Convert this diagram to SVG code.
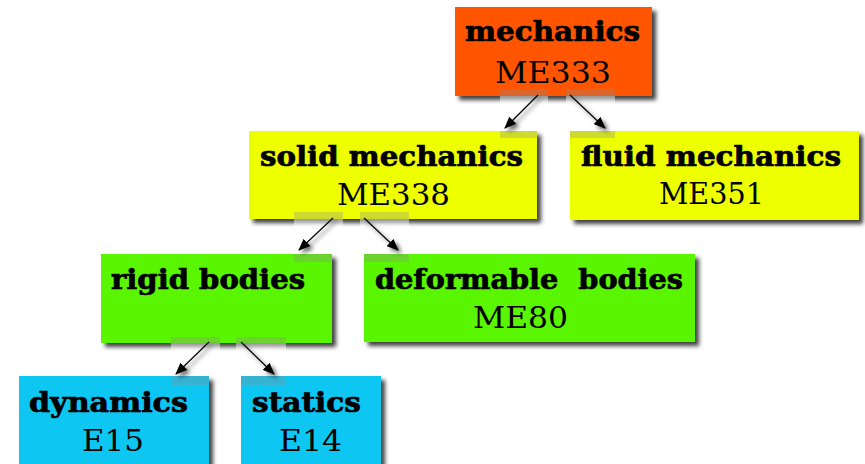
<svg xmlns="http://www.w3.org/2000/svg" width="865" height="464" viewBox="0 0 865 464">
  <style>
    .title { font-family: "DejaVu Serif", "Liberation Serif", serif; font-weight: bold; font-size: 27px; fill: #000; stroke: #000; stroke-width: 0.7; text-anchor: middle; }
    .code { font-family: "DejaVu Serif", "Liberation Serif", serif; font-size: 30px; fill: #000; text-anchor: middle; }
    .box { filter: url(#shadow); }
    .orange { fill: #ff5500; }
    .yellow { fill: #eeff00; }
    .green { fill: #5af500; }
    .blue { fill: #10c6f2; }
    .edge { stroke: #000; stroke-width: 1.2; fill: none; marker-end: url(#head); }
    .patch { fill: #8c8c8c; opacity: 0.32; }
    .fade { fill: #fff; opacity: 0.45; }
  </style>
  <defs>
    <filter id="shadow" x="-10%" y="-10%" width="130%" height="140%">
      <feGaussianBlur in="SourceAlpha" stdDeviation="2"/>
      <feOffset dx="4" dy="4" result="blur"/>
      <feFlood flood-color="#000" flood-opacity="0.75"/>
      <feComposite in2="blur" operator="in" result="shade"/>
      <feMerge>
        <feMergeNode in="shade"/>
        <feMergeNode in="SourceGraphic"/>
      </feMerge>
    </filter>
    <filter id="lineShadow" x="-30%" y="-30%" width="160%" height="160%">
      <feGaussianBlur in="SourceAlpha" stdDeviation="2"/>
      <feOffset dx="3" dy="3" result="blur"/>
      <feFlood flood-color="#000" flood-opacity="0.6"/>
      <feComposite in2="blur" operator="in" result="shade"/>
      <feMerge>
        <feMergeNode in="shade"/>
        <feMergeNode in="SourceGraphic"/>
      </feMerge>
    </filter>
    <marker id="head" viewBox="0 0 12 10" refX="11" refY="5" markerWidth="12" markerHeight="10" markerUnits="userSpaceOnUse" orient="auto">
      <path d="M0,0 L12,5 L0,10 Z" fill="#000"/>
    </marker>
  </defs>

  <!-- nodes -->
  <g id="mechanics">
    <rect class="box orange" x="455" y="7" width="197" height="89"/>
    <text class="title" x="552.5" y="41" textLength="175" lengthAdjust="spacingAndGlyphs">mechanics</text>
    <text class="code" x="553" y="83" textLength="116" lengthAdjust="spacingAndGlyphs">ME333</text>
  </g>
  <g id="solid-mechanics">
    <rect class="box yellow" x="249" y="131" width="288" height="88"/>
    <text class="title" x="391.5" y="166" textLength="263" lengthAdjust="spacingAndGlyphs">solid mechanics</text>
    <text class="code" x="393.5" y="205" textLength="113" lengthAdjust="spacingAndGlyphs">ME338</text>
  </g>
  <g id="fluid-mechanics">
    <rect class="box yellow" x="570" y="131" width="289" height="89"/>
    <text class="title" x="711" y="166" textLength="260" lengthAdjust="spacingAndGlyphs">fluid mechanics</text>
    <text class="code" x="711.5" y="204" textLength="105" lengthAdjust="spacingAndGlyphs">ME351</text>
  </g>
  <g id="rigid-bodies">
    <rect class="box green" x="101" y="254" width="231" height="89"/>
    <text class="title" x="208" y="289" textLength="194" lengthAdjust="spacingAndGlyphs">rigid bodies</text>
  </g>
  <g id="deformable-bodies">
    <rect class="box green" x="364" y="254" width="331" height="88"/>
    <text class="title" x="529" y="289" textLength="308" lengthAdjust="spacingAndGlyphs" xml:space="preserve">deformable  bodies</text>
    <text class="code" x="520.5" y="328" textLength="95" lengthAdjust="spacingAndGlyphs">ME80</text>
  </g>
  <g id="dynamics">
    <rect class="box blue" x="19" y="376" width="190" height="110"/>
    <text class="title" x="108.5" y="412" textLength="159" lengthAdjust="spacingAndGlyphs">dynamics</text>
    <text class="code" x="113" y="451" textLength="62" lengthAdjust="spacingAndGlyphs">E15</text>
  </g>
  <g id="statics">
    <rect class="box blue" x="241" y="376" width="140" height="110"/>
    <text class="title" x="306.5" y="412" textLength="109" lengthAdjust="spacingAndGlyphs">statics</text>
    <text class="code" x="310.5" y="451" textLength="63" lengthAdjust="spacingAndGlyphs">E14</text>
  </g>

  <!-- connectors: tinted end patches, then the arrows -->
  <g id="connectors">
    <g id="end-patches">
      <rect class="patch" x="500" y="89" width="48" height="7"/>
      <rect class="fade" x="500" y="96" width="48" height="11"/>
      <rect class="patch" x="566" y="89" width="49" height="7"/>
      <rect class="fade" x="566" y="96" width="49" height="11"/>
      <rect class="patch" x="500" y="131" width="37" height="7"/>
      <rect class="patch" x="570" y="131" width="45" height="7"/>

      <rect class="patch" x="294" y="212" width="49" height="7"/>
      <rect class="fade" x="294" y="219" width="49" height="11"/>
      <rect class="patch" x="360" y="212" width="49" height="7"/>
      <rect class="fade" x="360" y="219" width="49" height="11"/>
      <rect class="patch" x="294" y="254" width="38" height="8"/>
      <rect class="patch" x="364" y="254" width="45" height="8"/>

      <rect class="patch" x="171" y="337" width="49" height="6"/>
      <rect class="fade" x="171" y="343" width="49" height="10"/>
      <rect class="patch" x="236" y="337" width="50" height="6"/>
      <rect class="fade" x="236" y="343" width="50" height="10"/>
      <rect class="patch" x="171" y="376" width="38" height="9"/>
      <rect class="patch" x="241" y="376" width="45" height="9"/>
    </g>
    <g id="arrows" filter="url(#lineShadow)">
      <line class="edge" x1="538" y1="95" x2="505" y2="128"/>
      <line class="edge" x1="570" y1="95" x2="605" y2="128"/>
      <line class="edge" x1="333" y1="218" x2="299" y2="250"/>
      <line class="edge" x1="364" y1="218" x2="398" y2="250"/>
      <line class="edge" x1="209" y1="342" x2="176" y2="374"/>
      <line class="edge" x1="241" y1="342" x2="274" y2="374"/>
    </g>
  </g>
</svg>
